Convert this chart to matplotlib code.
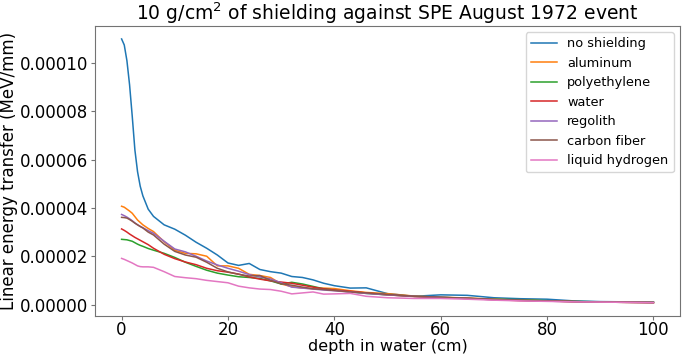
import numpy as np
import matplotlib
matplotlib.use("Agg")
import matplotlib.pyplot as plt

# depth in water (cm)
depth = [0, 0.5, 1, 1.5, 2, 2.5, 3, 3.5, 4, 5, 6, 8, 10, 12, 14, 16, 18, 20, 22, 24, 26, 28,
         30, 32, 34, 36, 38, 40, 43, 46, 50, 55, 60, 65, 70, 75, 80, 85, 90, 95, 100]

# LET values in units of 1e-5 MeV/mm
no_shielding = [11.0, 10.75, 10.1, 9.1, 7.8, 6.4, 5.5, 4.9, 4.5, 3.95, 3.65, 3.3, 3.12, 2.87,
                2.58, 2.33, 2.05, 1.72, 1.62, 1.70, 1.45, 1.36, 1.30, 1.16, 1.12, 1.02, 0.88,
                0.78, 0.68, 0.69, 0.45, 0.34, 0.40, 0.38, 0.28, 0.24, 0.22, 0.15, 0.12, 0.11, 0.10]
aluminum = [4.07, 4.03, 3.95, 3.87, 3.78, 3.64, 3.5, 3.4, 3.3, 3.15, 3.02, 2.6, 2.25, 2.12,
            2.1, 2.0, 1.6, 1.6, 1.5, 1.25, 1.2, 1.12, 0.85, 0.74, 0.68, 0.66, 0.68, 0.66,
            0.57, 0.5, 0.45, 0.35, 0.3, 0.27, 0.22, 0.18, 0.15, 0.12, 0.1, 0.09, 0.08]
polyethylene = [2.70, 2.69, 2.68, 2.65, 2.62, 2.56, 2.5, 2.45, 2.41, 2.32, 2.25, 2.12, 1.95, 1.75,
                1.58, 1.42, 1.3, 1.22, 1.15, 1.12, 1.08, 0.98, 0.85, 0.92, 0.85, 0.75, 0.65,
                0.6, 0.52, 0.46, 0.4, 0.34, 0.3, 0.25, 0.22, 0.2, 0.16, 0.13, 0.11, 0.1, 0.09]
water = [3.13, 3.07, 3.0, 2.92, 2.85, 2.78, 2.72, 2.66, 2.6, 2.48, 2.33, 2.08, 1.9, 1.76,
         1.65, 1.5, 1.4, 1.34, 1.26, 1.14, 1.05, 0.98, 0.93, 0.88, 0.8, 0.72, 0.65, 0.6,
         0.55, 0.48, 0.4, 0.33, 0.28, 0.25, 0.2, 0.16, 0.14, 0.12, 0.1, 0.09, 0.08]
regolith = [3.73, 3.68, 3.62, 3.55, 3.47, 3.38, 3.3, 3.24, 3.18, 3.06, 2.95, 2.62, 2.3, 2.18,
            2.0, 1.8, 1.64, 1.5, 1.38, 1.24, 1.14, 1.06, 0.9, 0.72, 0.68, 0.64, 0.6, 0.57,
            0.52, 0.46, 0.4, 0.34, 0.3, 0.25, 0.2, 0.17, 0.14, 0.12, 0.1, 0.09, 0.08]
carbon_fiber = [3.61, 3.60, 3.58, 3.52, 3.45, 3.37, 3.3, 3.23, 3.17, 3.0, 2.88, 2.5, 2.2, 2.05,
                1.96, 1.75, 1.5, 1.35, 1.25, 1.18, 1.2, 1.0, 0.86, 0.8, 0.72, 0.65, 0.62,
                0.58, 0.52, 0.48, 0.42, 0.34, 0.3, 0.26, 0.21, 0.18, 0.15, 0.12, 0.1, 0.09, 0.08]
liquid_hydrogen = [1.91, 1.87, 1.82, 1.77, 1.72, 1.66, 1.6, 1.57, 1.56, 1.56, 1.54, 1.36, 1.16,
                   1.11, 1.07, 1.0, 0.95, 0.9, 0.76, 0.69, 0.64, 0.62, 0.55, 0.44, 0.48, 0.52,
                   0.43, 0.44, 0.46, 0.34, 0.28, 0.25, 0.25, 0.22, 0.18, 0.15, 0.13, 0.11, 0.1,
                   0.09, 0.08]

series = [
    ("no shielding", no_shielding),
    ("aluminum", aluminum),
    ("polyethylene", polyethylene),
    ("water", water),
    ("regolith", regolith),
    ("carbon fiber", carbon_fiber),
    ("liquid hydrogen", liquid_hydrogen),
]

fig = plt.figure(figsize=(6.85, 3.58), dpi=100)
ax = fig.add_axes([0.1387, 0.118, 0.854, 0.81])

for name, vals in series:
    ax.plot(depth, np.array(vals) * 1e-5, label=name, linewidth=1.1)

ax.set_title("10 g/cm$^2$ of shielding against SPE August 1972 event", fontsize=13.5, pad=2)
ax.set_xlabel("depth in water (cm)", fontsize=11.5, labelpad=0)
ax.set_ylabel("Linear energy transfer (MeV/mm)", fontsize=12, labelpad=1)
ax.set_xticks([0, 20, 40, 60, 80, 100])
ax.set_yticks([0, 2e-5, 4e-5, 6e-5, 8e-5, 1e-4])
ax.set_yticklabels(["0.00000", "0.00002", "0.00004", "0.00006", "0.00008", "0.00010"])
ax.tick_params(labelsize=12, color="0.45", length=3, pad=2)
ax.tick_params(axis="x", pad=1)
for sp in ax.spines.values():
    sp.set_color("0.45")
ax.legend(loc="upper right", fontsize=9.3, borderaxespad=0.5)

fig.savefig("out.png", dpi=100)
